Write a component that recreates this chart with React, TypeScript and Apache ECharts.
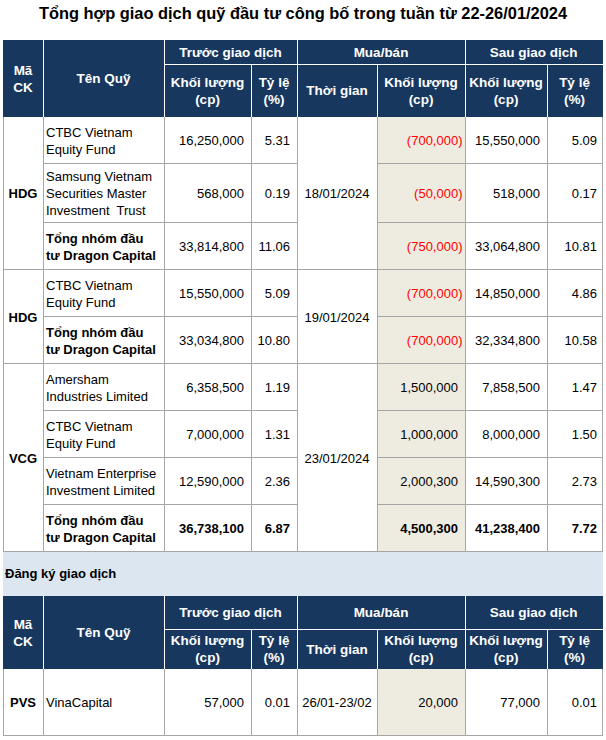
import React, { useEffect, useRef } from "react";
import * as echarts from "echarts";

// ---------- data ----------
const title = "Tổng hợp giao dịch quỹ đầu tư công bố trong tuần từ 22-26/01/2024";
const sectionTitle = "Đăng ký giao dịch";
const headerFixed = ["Mã\nCK", "Tên Quỹ"];
const headerGroups = ["Trước giao dịch", "Mua/bán", "Sau giao dịch"];
const headerSub = ["Khối lượng\n(cp)", "Tỷ lệ\n(%)", "Thời gian", "Khối lượng\n(cp)", "Khối lượng\n(cp)", "Tỷ lệ\n(%)"];

const groupCodes = ["HDG", "HDG", "VCG", "PVS"];
const groupDates = ["18/01/2024", "19/01/2024", "23/01/2024", "26/01-23/02"];

const rowGroup = [0, 0, 0, 1, 1, 2, 2, 2, 2, 3];
const fundNames = [
  "CTBC Vietnam\nEquity Fund",
  "Samsung Vietnam\nSecurities Master\nInvestment  Trust",
  "Tổng nhóm đầu\ntư Dragon Capital",
  "CTBC Vietnam\nEquity Fund",
  "Tổng nhóm đầu\ntư Dragon Capital",
  "Amersham\nIndustries Limited",
  "CTBC Vietnam\nEquity Fund",
  "Vietnam Enterprise\nInvestment Limited",
  "Tổng nhóm đầu\ntư Dragon Capital",
  "VinaCapital",
];
const beforeVolumes = [16250000, 568000, 33814800, 15550000, 33034800, 6358500, 7000000, 12590000, 36738100, 57000];
const beforePcts = [5.31, 0.19, 11.06, 5.09, 10.8, 1.19, 1.31, 2.36, 6.87, 0.01];
const tradeVolumes = [-700000, -50000, -750000, -700000, -700000, 1500000, 1000000, 2000300, 4500300, 20000];
const afterVolumes = [15550000, 518000, 33064800, 14850000, 32334800, 7858500, 8000000, 14590300, 41238400, 77000];
const afterPcts = [5.09, 0.17, 10.81, 4.86, 10.58, 1.47, 1.5, 2.73, 7.72, 0.01];
const boldName = [false, false, true, false, true, false, false, false, true, false];
const boldNumbers = [false, false, false, false, false, false, false, false, true, false];

// ---------- layout ----------
const FONT = "'Liberation Sans', Arial, sans-serif";
const NAVY = "#17375e";
const GRID = "#a6a6a6";
const BEIGE = "#eeece1";
const BAND = "#dce6f1";
const colX = [3, 43, 164, 251, 297, 377, 465, 547, 602];
const rowHeights = [47, 59, 47, 47, 47, 47, 47, 47, 47, 67];
const tables = [
  { top: 40, mid: 64, bottom: 117, rows: [0, 1, 2, 3, 4, 5, 6, 7, 8] },
  { top: 596, mid: 629, bottom: 669, rows: [9] },
];
const bandTop = 552;
const bandBottom = 596;

const fmtInt = (v: number) => Math.abs(v).toLocaleString("en-US");
const px = (v: number) => Math.round(v) + 0.5;

function buildElements() {
  const els: any[] = [];
  const txt = (x: number, y: number, text: string, opt: any = {}) =>
    els.push({
      type: "text",
      x,
      y,
      z: 10,
      style: {
        text,
        fill: opt.fill || "#000",
        fontFamily: FONT,
        fontSize: opt.size || 13,
        fontWeight: opt.bold ? "bold" : "normal",
        align: opt.align || "left",
        verticalAlign: "middle",
        lineHeight: opt.lh || 17,
      },
    });
  const line = (x1: number, y1: number, x2: number, y2: number, stroke: string, z = 5) =>
    els.push({ type: "line", z, shape: { x1, y1, x2, y2 }, style: { stroke, lineWidth: 1 } });
  const rect = (x: number, y: number, w: number, h: number, fill: string, z = 1) =>
    els.push({ type: "rect", z, shape: { x, y, width: w, height: h }, style: { fill } });

  // title
  txt(303, 12.5, title, { bold: true, size: 16.4, align: "center" });

  // band
  rect(colX[0], bandTop, colX[8] - colX[0] + 1, bandBottom - bandTop, BAND);
  txt(colX[0] + 2, (bandTop + bandBottom) / 2 - 0.5, sectionTitle, { bold: true });

  const cx = (i: number, j: number) => (colX[i] + colX[j]) / 2;

  tables.forEach((t) => {
    // header
    rect(colX[0], t.top, colX[8] - colX[0] + 1, t.bottom - t.top, NAVY, 2);
    const hs = { fill: "#fff", bold: true, size: 13.5, align: "center" };
    txt(cx(0, 1), (t.top + t.bottom) / 2, headerFixed[0], hs);
    txt(cx(1, 2), (t.top + t.bottom) / 2, headerFixed[1], hs);
    headerGroups.forEach((g, k) => txt(cx(2 + 2 * k, 4 + 2 * k), (t.top + t.mid) / 2, g, hs));
    headerSub.forEach((s, k) => txt(cx(2 + k, 3 + k), (t.mid + t.bottom) / 2, s, hs));
    [1, 2, 4, 6].forEach((i) => line(px(colX[i]), t.top, px(colX[i]), t.bottom, "#fff", 6));
    [3, 5, 7].forEach((i) => line(px(colX[i]), t.mid, px(colX[i]), t.bottom, "#fff", 6));
    line(colX[2], px(t.mid), colX[8] + 1, px(t.mid), "#fff", 6);

    // body
    let y = t.bottom;
    const bodyTop = y;
    const groupSpans: Record<number, [number, number]> = {};
    t.rows.forEach((r) => {
      const h = rowHeights[r];
      const cy = y + h / 2;
      const g = rowGroup[r];
      if (!groupSpans[g]) groupSpans[g] = [y, y + h];
      else groupSpans[g][1] = y + h;
      txt(colX[1] + 3, cy, fundNames[r], { bold: boldName[r] });
      const nb = boldNumbers[r];
      txt(colX[3] - 7, cy, fmtInt(beforeVolumes[r]), { bold: nb, align: "right" });
      txt(colX[4] - 7, cy, beforePcts[r].toFixed(2), { bold: nb, align: "right" });
      const tv = tradeVolumes[r];
      if (tv < 0) txt(colX[6] - 2.5, cy, "(" + fmtInt(tv) + ")", { bold: nb, align: "right", fill: "#ff0000" });
      else txt(colX[6] - 7, cy, fmtInt(tv), { bold: nb, align: "right" });
      txt(colX[7] - 7, cy, fmtInt(afterVolumes[r]), { bold: nb, align: "right" });
      txt(colX[8] - 5, cy, afterPcts[r].toFixed(2), { bold: nb, align: "right" });
      y += h;
    });
    const bodyBottom = y;
    rect(colX[5], bodyTop, colX[6] - colX[5], bodyBottom - bodyTop, BEIGE);

    Object.keys(groupSpans).forEach((k) => {
      const g = Number(k);
      const [a, b] = groupSpans[g];
      txt(cx(0, 1), (a + b) / 2, groupCodes[g], { bold: true, align: "center" });
      txt(cx(4, 5), (a + b) / 2, groupDates[g], { align: "center" });
      line(colX[0], px(b - 1), colX[8] + 1, px(b - 1), GRID);
    });
    // inner row lines
    let yy = t.bottom;
    t.rows.forEach((r, idx) => {
      yy += rowHeights[r];
      const next = t.rows[idx + 1];
      if (next !== undefined && rowGroup[next] === rowGroup[r]) {
        line(colX[1], px(yy - 1), colX[4] + 1, px(yy - 1), GRID);
        line(colX[5], px(yy - 1), colX[8] + 1, px(yy - 1), GRID);
      }
    });
    colX.forEach((x) => line(px(x), bodyTop, px(x), bodyBottom, GRID));
  });
  return els;
}

export default function App() {
  const ref = useRef<HTMLDivElement>(null);
  useEffect(() => {
    document.body.style.margin = "0";
    const chart = echarts.init(ref.current!, null, { renderer: "svg" });
    chart.setOption({
      animation: false,
      backgroundColor: "#fff",
      graphic: { elements: buildElements() },
    });
    return () => chart.dispose();
  }, []);
  return <div ref={ref} style={{ width: 606, height: 740 }} />;
}
